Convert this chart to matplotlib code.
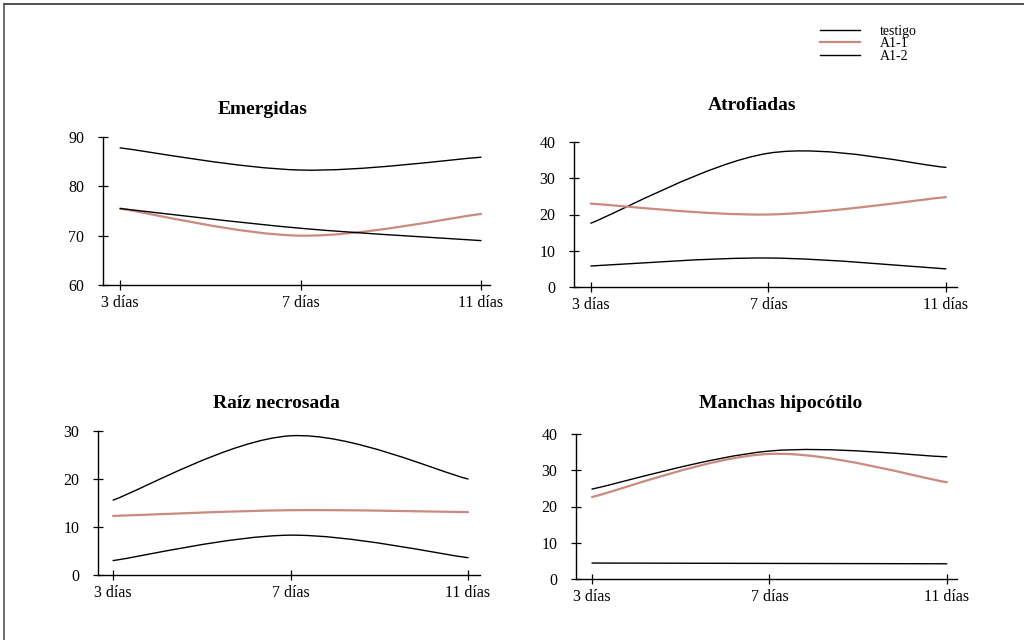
import numpy as np
import matplotlib
matplotlib.use("Agg")
from matplotlib import pyplot as plt
from matplotlib.path import Path
from matplotlib.patches import PathPatch
from matplotlib.lines import Line2D

plt.rcParams['font.family'] = ['Liberation Serif', 'DejaVu Serif']

# data
dias = [3, 7, 11]
dias_labels = ['3 días', '7 días', '11 días']
series_names = ['testigo', 'A1-1', 'A1-2']

titles = ['Emergidas', 'Atrofiadas', 'Raíz necrosada', 'Manchas hipocótilo']

emergidas_testigo = [87.8, 83.3, 85.9]
emergidas_a11 = [75.5, 70.0, 74.4]
emergidas_a12 = [75.5, 71.5, 69.0]

atrofiadas_testigo = [17.6, 36.9, 33.0]
atrofiadas_a11 = [23.0, 20.0, 24.8]
atrofiadas_a12 = [5.8, 8.0, 5.0]

raiz_testigo = [15.6, 29.0, 20.0]
raiz_a11 = [12.3, 13.5, 13.1]
raiz_a12 = [3.0, 8.3, 3.6]

manchas_testigo = [24.8, 35.3, 33.7]
manchas_a11 = [22.6, 34.5, 26.7]
manchas_a12 = [4.4, 4.3, 4.2]

yticks = [[60, 70, 80, 90], [0, 10, 20, 30, 40], [0, 10, 20, 30], [0, 10, 20, 30, 40]]

panels = [
    (emergidas_testigo, emergidas_a11, emergidas_a12),
    (atrofiadas_testigo, atrofiadas_a11, atrofiadas_a12),
    (raiz_testigo, raiz_a11, raiz_a12),
    (manchas_testigo, manchas_a11, manchas_a12),
]

colors = ['black', '#c98a80', 'black']
widths = [1.0, 1.6, 1.0]

W, H = 1024, 640
# axes boxes in pixels: left, top, right, bottom ; xlim
boxes = [
    (103, 137, 490, 285, (2.62, 11.2)),
    (574, 142, 957, 287, (2.62, 11.25)),
    (98, 431, 480, 575, (2.66, 11.27)),
    (576, 434, 957, 579, (2.64, 11.23)),
]
title_pos = [(263, 109), (752, 106), (276, 403), (781, 404)]


def smooth_line(ax, xs, ys, **kw):
    # catmull-rom style bezier through the points (like a spreadsheet smoothed line)
    pts = np.column_stack([xs, ys]).astype(float)
    n = len(pts)
    verts = [pts[0]]
    codes = [Path.MOVETO]
    for i in range(n - 1):
        p0 = pts[max(i - 1, 0)]
        p1 = pts[i]
        p2 = pts[i + 1]
        p3 = pts[min(i + 2, n - 1)]
        c1 = p1 + (p2 - p0) / 6.0
        c2 = p2 - (p3 - p1) / 6.0
        verts += [c1, c2, p2]
        codes += [Path.CURVE4] * 3
    ax.add_patch(PathPatch(Path(verts, codes), fill=False, **kw))


fig = plt.figure(figsize=(W / 100, H / 100), dpi=100)

for k, (l, t, r, b, xl) in enumerate(boxes):
    ax = fig.add_axes([l / W, 1 - b / H, (r - l) / W, (b - t) / H])
    for s, vals in enumerate(panels[k]):
        smooth_line(ax, dias, vals, edgecolor=colors[s], linewidth=widths[s],
                    capstyle='round', joinstyle='round')
    ax.set_xlim(*xl)
    ax.set_ylim(yticks[k][0], yticks[k][-1])
    ax.set_xticks(dias)
    ax.set_xticklabels(dias_labels)
    ax.set_yticks(yticks[k])
    ax.spines['top'].set_visible(False)
    ax.spines['right'].set_visible(False)
    ax.spines['left'].set_linewidth(1.0)
    ax.spines['bottom'].set_linewidth(1.0)
    ax.tick_params(direction='inout', length=7, width=0.9, labelsize=11.5, pad=4)
    ax.tick_params(axis='y', pad=10)
    fig.text(title_pos[k][0] / W, 1 - title_pos[k][1] / H, titles[k],
             ha='center', va='center', fontsize=14, fontweight='bold')

handles = [Line2D([], [], color=colors[i], linewidth=widths[i]) for i in range(3)]
fig.legend(handles, series_names, loc='upper left', bbox_to_anchor=(813 / W, 1 - 18 / H),
           frameon=False, fontsize=10, handlelength=2.9, handletextpad=1.4,
           labelspacing=-0.05, borderpad=0)

# scanned page border
fig.add_artist(Line2D([4 / W, 1], [1 - 4 / H, 1 - 4 / H], color='#333333', linewidth=1.2))
fig.add_artist(Line2D([4 / W, 4 / W], [0, 1 - 4 / H], color='#555555', linewidth=1.2))

fig.savefig('out.png', dpi=100)
